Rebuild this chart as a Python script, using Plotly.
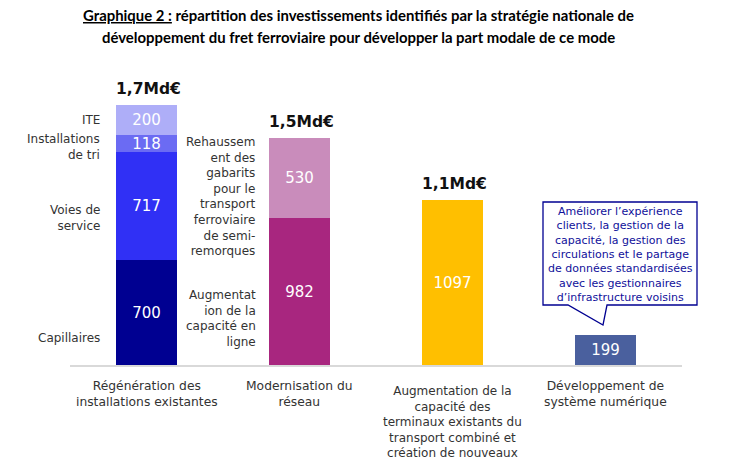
import plotly.graph_objects as go

# ---------------- data ----------------
categories = [
    "Régénération des installations existantes",
    "Modernisation du réseau",
    "Augmentation de la capacité des terminaux existants du transport combiné et création de nouveaux",
    "Développement de système numérique",
]
cat_label_lines = [
    ["Régénération des", "installations existantes"],
    ["Modernisation du", "réseau"],
    ["Augmentation de la", "capacité des", "terminaux existants du",
     "transport combiné et", "création de nouveaux"],
    ["Développement de", "système numérique"],
]
seg_category = [0, 0, 0, 0, 1, 1, 2, 3]
seg_names = [
    "Capillaires", "Voies de service", "Installations de tri", "ITE",
    "Augmentation de la capacité en ligne",
    "Rehaussement des gabarits pour le transport ferroviaire de semi-remorques",
    "Terminaux de transport combiné", "Système numérique",
]
seg_values = [700, 717, 118, 200, 982, 530, 1097, 199]
seg_label_lines = [
    ["Capillaires"],
    ["Voies de", "service"],
    ["Installations", "de tri"],
    ["ITE"],
    ["Augmentat", "ion de la", "capacité en", "ligne"],
    ["Rehaussem", "ent des", "gabarits", "pour le", "transport",
     "ferroviaire", "de semi-", "remorques"],
    [],
    [],
]
total_labels = ["1,7Md€", "1,5Md€", "1,1Md€", ""]
callout_lines = [
    "Améliorer l’expérience",
    "clients, la gestion de la",
    "capacité, la gestion des",
    "circulations et le partage",
    "de données standardisées",
    "avec les gestionnaires",
    "d’infrastructure voisins",
]

# ---------------- style ----------------
seg_colors = ["#000091", "#3030F5", "#6B6BF3", "#AEAEF8",
              "#A8267F", "#C98CBB", "#FFBF00", "#4A609E"]
FONT = "DejaVu Sans"
TITLE_FONT = "Lato"
TXT = "#333333"
NAVY = "#10109A"

FIG_W, FIG_H = 756, 472
L, R, T, B = 70, 74, 65, 107
PW, PH = FIG_W - L - R, FIG_H - T - B
BAR_W = 0.4


def px_x(px):
    return (px - L) / PW


def px_y(py):
    return (T + PH - py) / PH


fig = go.Figure()

for i, (c, v) in enumerate(zip(seg_category, seg_values)):
    fig.add_trace(go.Bar(
        x=[c], y=[v], name=seg_names[i], width=BAR_W,
        marker=dict(color=seg_colors[i], line=dict(width=0)),
        text=[str(v)], textposition="inside", insidetextanchor="middle",
        constraintext="none",
        textfont=dict(family=FONT, size=15, color="white"),
        showlegend=False, hoverinfo="name+y",
    ))

annotations = []

# totals above the bars
for c in range(len(categories)):
    tot = sum(v for cc, v in zip(seg_category, seg_values) if cc == c)
    if total_labels[c]:
        annotations.append(dict(
            x=c, y=tot, xref="x", yref="y", text="<b>%s</b>" % total_labels[c],
            showarrow=False, yanchor="middle", yshift=16, xshift=2,
            font=dict(family=FONT, size=15.5, color="#111111")))

# segment side labels: centre of each text block, in pixels
seg_label_mid = [338, 218, 147, 120, 318, 196.5, None, None]
seg_label_gap = [14, 14, 14, 14, 11, 11, None, None]
for i, lines in enumerate(seg_label_lines):
    if not lines:
        continue
    annotations.append(dict(
        x=seg_category[i] - BAR_W / 2, y=px_y(seg_label_mid[i]),
        xref="x", yref="paper", text="<br>".join(lines), showarrow=False,
        xanchor="right", yanchor="middle", align="right", xshift=-seg_label_gap[i],
        font=dict(family=FONT, size=12, color=TXT)))

# category labels below the axis (top of text block, in pixels)
cat_top = [377, 377, 382, 377]
cat_size = [12.3, 12.3, 12, 12.3]
for c, lines in enumerate(cat_label_lines):
    annotations.append(dict(
        x=c, y=px_y(cat_top[c]), xref="x", yref="paper",
        text="<br>".join(lines), showarrow=False, xanchor="center", yanchor="top",
        align="center",
        font=dict(family=FONT, size=cat_size[c], color=TXT)))

# title
title_lines = [
    "<b><u>Graphique 2 :</u> répartition des investissements identifiés par la stratégie nationale de</b>",
    "<b>développement du fret ferroviaire pour développer la part modale de ce mode</b>",
]
for k, line in enumerate(title_lines):
    annotations.append(dict(
        x=px_x(358), y=px_y(15 + 22 * k), xref="paper", yref="paper",
        text=line, showarrow=False, xanchor="center", yanchor="middle",
        font=dict(family=TITLE_FONT, size=14.9, color="#000000")))

# callout box
bx0, bx1, by0, by1 = 543, 697, 202, 305
tl, tr, ax_, ay_ = 568, 607, 603, 325
path = "M {a},{b} L {c},{b} L {d},{e} L {f},{b} L {g},{b} L {g},{h} L {a},{h} Z".format(
    a=px_x(bx0), b=px_y(by1), c=px_x(tl), d=px_x(ax_), e=px_y(ay_),
    f=px_x(tr), g=px_x(bx1), h=px_y(by0))
shapes = [dict(type="path", path=path, xref="paper", yref="paper",
               fillcolor="white", line=dict(color="#000091", width=1.3), layer="above")]
annotations.append(dict(
    x=px_x((bx0 + bx1) / 2), y=px_y((by0 + by1) / 2 + 1), xref="paper", yref="paper",
    text="<br>".join(callout_lines), showarrow=False, xanchor="center",
    yanchor="middle", align="center",
    font=dict(family=FONT, size=11, color=NAVY)))

fig.update_layout(
    width=FIG_W, height=FIG_H,
    margin=dict(l=L, r=R, t=T, b=B),
    paper_bgcolor="white", plot_bgcolor="white",
    barmode="stack", bargap=0,
    annotations=annotations, shapes=shapes,
    xaxis=dict(range=[-0.5, 3.5], showticklabels=False, ticks="", showgrid=False,
               zeroline=False, showline=True, linecolor="#D9D9D9", linewidth=1.5,
               fixedrange=True),
    yaxis=dict(range=[0, 2000], visible=False, fixedrange=True),
)

fig.write_html("out.html", config={"displayModeBar": False},
               post_script="document.body.style.margin='0';")
